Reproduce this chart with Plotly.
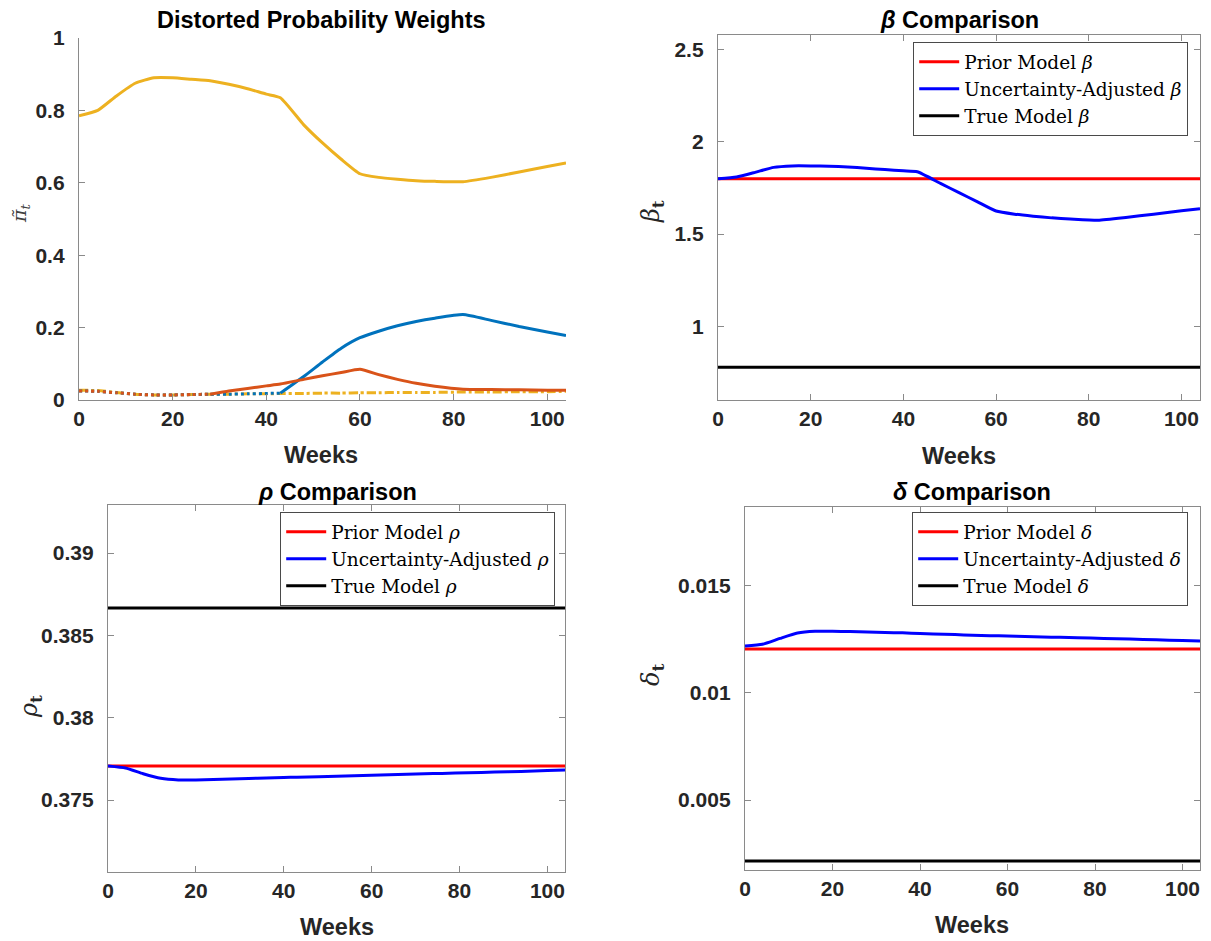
import plotly.graph_objects as go

W, H = 1211, 941

# ---------------- data ----------------
weeks = [0, 4, 8, 12, 16, 20, 24, 28, 32, 36, 40, 43, 48, 52, 56, 60,
         64, 68, 72, 76, 82, 88, 94, 100, 104]

# distorted probability weights of the four candidate models
pi_1 = [0.025, 0.024, 0.020, 0.016, 0.014, 0.014, 0.015, 0.016, 0.016, 0.017,
        0.018, 0.019, 0.065, 0.105, 0.143, 0.172, 0.190, 0.205, 0.217, 0.226,
        0.236, 0.220, 0.203, 0.188, 0.178]
pi_2 = [0.025, 0.024, 0.020, 0.016, 0.014, 0.014, 0.015, 0.016, 0.025, 0.032,
        0.039, 0.044, 0.057, 0.067, 0.076, 0.085, 0.070, 0.057, 0.046, 0.038,
        0.030, 0.029, 0.028, 0.027, 0.027]
pi_3 = [0.785, 0.800, 0.840, 0.875, 0.890, 0.890, 0.886, 0.882, 0.872, 0.860,
        0.845, 0.835, 0.760, 0.710, 0.665, 0.625, 0.615, 0.610, 0.606, 0.604,
        0.603, 0.615, 0.630, 0.645, 0.655]
pi_4 = [0.027, 0.026, 0.021, 0.016, 0.014, 0.014, 0.015, 0.016, 0.016, 0.017,
        0.017, 0.018, 0.018, 0.019, 0.019, 0.020, 0.020, 0.021, 0.021, 0.021,
        0.022, 0.022, 0.023, 0.023, 0.024]
pi_1_switch = 43   # week where model 1 line turns solid
pi_2_switch = 28   # week where model 2 line turns solid

beta_prior = 1.80
beta_true = 0.777
beta_adj = [1.800, 1.810, 1.835, 1.862, 1.870, 1.870, 1.868, 1.864, 1.857, 1.850,
            1.843, 1.838, 1.775, 1.725, 1.675, 1.625, 1.608, 1.597, 1.588, 1.582,
            1.575, 1.590, 1.608, 1.626, 1.638]

rho_prior = 0.37707
rho_true = 0.38666
rho_adj = [0.37707, 0.37695, 0.37660, 0.37632, 0.37622, 0.37622, 0.37625, 0.37628, 0.37631, 0.37634,
           0.37637, 0.37639, 0.37642, 0.37645, 0.37648, 0.37651, 0.37654, 0.37656, 0.37659, 0.37662,
           0.37666, 0.37670, 0.37674, 0.37679, 0.37682]

delta_prior = 0.01206
delta_true = 0.00215
delta_adj = [0.01220, 0.01228, 0.01255, 0.01280, 0.01288, 0.01288, 0.01287, 0.01285, 0.01283, 0.01281,
             0.01278, 0.01276, 0.01273, 0.01270, 0.01268, 0.01266, 0.01264, 0.01262, 0.01260, 0.01258,
             0.01255, 0.01252, 0.01249, 0.01245, 0.01243]

x_ticks = [0, 20, 40, 60, 80, 100]

# ---------------- layout helpers ----------------
def px_x(v):
    return v / W

def px_y(v):
    return 1 - v / H

SANS = "Arial, Liberation Sans, sans-serif"
TICK_FONT = dict(family=SANS, size=21, color="#262626", weight="bold")
TITLE_FONT = dict(family=SANS, size=23.5, color="#000000")
LABEL_FONT = dict(family=SANS, size=23.5, color="#262626")
LEG_FONT = dict(family="DejaVu Serif, Liberation Serif, serif", size=18.5, color="#000000")
AX_LINE = "#8a8a8a"

fig = go.Figure()

def seg(xs, ys, lo, hi):
    sx, sy = [], []
    for a, b in zip(xs, ys):
        if lo <= a <= hi:
            sx.append(a)
            sy.append(b)
    return sx, sy

def line(color, dash="solid"):
    return dict(color=color, width=3, dash=dash, shape="spline", smoothing=0.5)

# ---------------- panel 1: probability weights ----------------
YEL = "#EDB120"
BLU = "#0072BD"
ORG = "#D95319"
fig.add_trace(go.Scatter(x=weeks, y=pi_3, mode="lines", line=line(YEL),
                         xaxis="x", yaxis="y", showlegend=False))
fig.add_trace(go.Scatter(x=weeks, y=pi_4, mode="lines", line=line(YEL, "dashdot"),
                         xaxis="x", yaxis="y", showlegend=False))
bx, by = seg(weeks, pi_1, 0, pi_1_switch)
fig.add_trace(go.Scatter(x=bx, y=by, mode="lines", line=line(BLU, "dot"),
                         xaxis="x", yaxis="y", showlegend=False))
bx, by = seg(weeks, pi_1, pi_1_switch, 104)
fig.add_trace(go.Scatter(x=bx, y=by, mode="lines", line=line(BLU),
                         xaxis="x", yaxis="y", showlegend=False))
ox, oy = seg(weeks, pi_2, 0, pi_2_switch)
fig.add_trace(go.Scatter(x=ox, y=oy, mode="lines", line=line(ORG, "dot"),
                         xaxis="x", yaxis="y", showlegend=False))
ox, oy = seg(weeks, pi_2, pi_2_switch, 104)
fig.add_trace(go.Scatter(x=ox, y=oy, mode="lines", line=line(ORG),
                         xaxis="x", yaxis="y", showlegend=False))

# ---------------- comparison panels ----------------
def comparison(ax, ay, sym, prior, adj, true, legend):
    n = len(weeks)
    fig.add_trace(go.Scatter(x=weeks, y=[prior] * n, mode="lines", line=dict(color="#FF0000", width=3),
                             name=f"Prior Model <i>{sym}</i>", xaxis=ax, yaxis=ay, legend=legend))
    fig.add_trace(go.Scatter(x=weeks, y=adj, mode="lines", line=line("#0000FF"),
                             name=f"Uncertainty-Adjusted <i>{sym}</i>", xaxis=ax, yaxis=ay, legend=legend))
    fig.add_trace(go.Scatter(x=weeks, y=[true] * n, mode="lines", line=dict(color="#000000", width=3),
                             name=f"True Model <i>{sym}</i>", xaxis=ax, yaxis=ay, legend=legend))

comparison("x2", "y2", "β", beta_prior, beta_adj, beta_true, "legend")
comparison("x3", "y3", "ρ", rho_prior, rho_adj, rho_true, "legend2")
comparison("x4", "y4", "δ", delta_prior, delta_adj, delta_true, "legend3")

def xaxis(left, right, anchor, mirror):
    return dict(domain=[px_x(left), px_x(right)], anchor=anchor, range=[0, 104], tickvals=x_ticks,
                ticks="inside", ticklen=6, tickcolor=AX_LINE, showline=True, linecolor=AX_LINE,
                linewidth=1.3, mirror=mirror, showgrid=False, zeroline=False,
                tickfont=TICK_FONT, automargin=False, fixedrange=True)

def yaxis(top, bottom, anchor, rng, tickvals, ticktext, mirror):
    return dict(domain=[px_y(bottom), px_y(top)], anchor=anchor, range=rng, tickvals=tickvals,
                ticktext=ticktext, ticks="inside", ticklen=6, tickcolor=AX_LINE, showline=True,
                linecolor=AX_LINE, linewidth=1.3, mirror=mirror, showgrid=False, zeroline=False,
                tickfont=TICK_FONT, automargin=False, fixedrange=True, ticklabelstandoff=9)

leg_common = dict(bgcolor="#ffffff", bordercolor="#4a4a4a", borderwidth=1.2, font=LEG_FONT,
                  xanchor="right", yanchor="top", tracegroupgap=0, itemwidth=40)

def text(s, x, y, font, angle=0):
    return dict(text=s, x=px_x(x), y=px_y(y), xref="paper", yref="paper", showarrow=False,
                font=font, xanchor="center", yanchor="middle", textangle=angle)

SYM_FONT = dict(family="DejaVu Serif, serif", size=24, color="#262626")
PI_FONT = dict(family="DejaVu Serif, serif", size=19, color="#404040")

fig.update_layout(
    template="none",
    width=W, height=H, margin=dict(l=0, r=0, t=0, b=0, autoexpand=False),
    plot_bgcolor="#ffffff", paper_bgcolor="#ffffff",
    xaxis=xaxis(79, 566, "y", False),
    yaxis=yaxis(38, 400, "x", [0, 1], [0, 0.2, 0.4, 0.6, 0.8, 1],
                ["0", "0.2", "0.4", "0.6", "0.8", "1"], False),
    xaxis2=xaxis(718, 1200, "y2", "ticks"),
    yaxis2=yaxis(35, 400, "x2", [0.6, 2.58], [1, 1.5, 2, 2.5], ["1", "1.5", "2", "2.5"], "ticks"),
    xaxis3=xaxis(108, 565, "y3", "ticks"),
    yaxis3=yaxis(505, 872, "x3", [0.37063, 0.39292], [0.375, 0.38, 0.385, 0.39],
                 ["0.375", "0.38", "0.385", "0.39"], "ticks"),
    xaxis4=xaxis(745, 1200, "y4", "ticks"),
    yaxis4=yaxis(507, 870, "x4", [0.00173, 0.01869], [0.005, 0.01, 0.015],
                 ["0.005", "0.01", "0.015"], "ticks"),
    legend=dict(x=px_x(1188), y=px_y(42), **leg_common),
    legend2=dict(x=px_x(555), y=px_y(512), **leg_common),
    legend3=dict(x=px_x(1188), y=px_y(512), **leg_common),
    annotations=[
        text("<b>Distorted Probability Weights</b>", 321, 20, TITLE_FONT),
        text("<b><i>β</i> Comparison</b>", 959, 20, TITLE_FONT),
        text("<b><i>ρ</i> Comparison</b>", 337, 492, TITLE_FONT),
        text("<b><i>δ</i> Comparison</b>", 972, 492, TITLE_FONT),
        text("<b>Weeks</b>", 321, 455, LABEL_FONT),
        text("<b>Weeks</b>", 959, 456, LABEL_FONT),
        text("<b>Weeks</b>", 337, 927, LABEL_FONT),
        text("<b>Weeks</b>", 972, 925, LABEL_FONT),
        text("<i>π̃<sub>t</sub></i>", 20, 213, PI_FONT, -90),
        text("<i>β</i><sub><b>t</b></sub>", 652, 212, SYM_FONT, -90),
        text("<i>ρ</i><sub><b>t</b></sub>", 30, 707, SYM_FONT, -90),
        text("<i>δ</i><sub><b>t</b></sub>", 652, 675, SYM_FONT, -90),
    ],
)

fig.write_html("out.html")
